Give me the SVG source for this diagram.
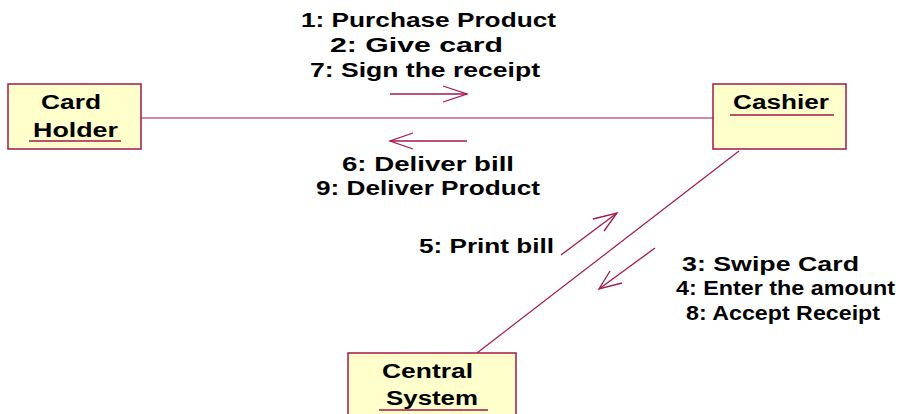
<svg xmlns="http://www.w3.org/2000/svg" width="899" height="414" viewBox="0 0 899 414">
<defs>
<style>
.box{fill:#FFFFCC;stroke:#A3184E;stroke-width:1.5}
.ul{stroke:#A3184E;stroke-width:1.3}
.ln{stroke:#A3184E;stroke-width:1.2;fill:none}
.ar{stroke:#A3184E;stroke-width:1.3;fill:none}
text{font-family:"Liberation Sans",Arial,sans-serif;font-weight:bold;font-size:20px;fill:#000}
</style>
</defs>
<rect width="899" height="414" fill="#fff"/>
<g id="connectors">
<line class="ln" x1="141" y1="118" x2="713" y2="118"/>
<line class="ln" x1="739" y1="151" x2="477" y2="353"/>
<polyline class="ar" points="390,94 467,94"/>
<polyline class="ar" points="443,86 467,94 443,102"/>
<polyline class="ar" points="467,141 390,141"/>
<polyline class="ar" points="413,133 390,141 413,149"/>
<polyline class="ar" points="561,255 617,213"/>
<polyline class="ar" points="593,219 617,213 604,231"/>
<polyline class="ar" points="655,248 599,289"/>
<polyline class="ar" points="610,271 599,289 622,283"/>
</g>
<g id="labels">
<text x="301" y="27" textLength="255" lengthAdjust="spacingAndGlyphs">1: Purchase Product</text>
<text x="330" y="52" textLength="173" lengthAdjust="spacingAndGlyphs">2: Give card</text>
<text x="310" y="77" textLength="230" lengthAdjust="spacingAndGlyphs">7: Sign the receipt</text>
<text x="342" y="171" textLength="172" lengthAdjust="spacingAndGlyphs">6: Deliver bill</text>
<text x="316" y="195" textLength="224" lengthAdjust="spacingAndGlyphs">9: Deliver Product</text>
<text x="419" y="253" textLength="135" lengthAdjust="spacingAndGlyphs">5: Print bill</text>
<text x="682" y="271" textLength="177" lengthAdjust="spacingAndGlyphs">3: Swipe Card</text>
<text x="676" y="295" textLength="219" lengthAdjust="spacingAndGlyphs">4: Enter the amount</text>
<text x="686" y="320" textLength="194" lengthAdjust="spacingAndGlyphs">8: Accept Receipt</text>
</g>
<g id="card-holder">
<rect class="box" x="8" y="84" width="133" height="65"/>
<text x="41" y="109" textLength="60" lengthAdjust="spacingAndGlyphs">Card</text>
<text x="33" y="137" textLength="85" lengthAdjust="spacingAndGlyphs">Holder</text>
<line class="ul" x1="29" y1="141" x2="121" y2="141"/>
</g>
<g id="cashier">
<rect class="box" x="713" y="84" width="133" height="65"/>
<text x="733" y="109" textLength="96" lengthAdjust="spacingAndGlyphs">Cashier</text>
<line class="ul" x1="730" y1="115" x2="834" y2="115"/>
</g>
<g id="central-system">
<rect class="box" x="348" y="353" width="168" height="70"/>
<text x="382" y="378" textLength="91" lengthAdjust="spacingAndGlyphs">Central</text>
<text x="386" y="405" textLength="92" lengthAdjust="spacingAndGlyphs">System</text>
<line class="ul" x1="379" y1="410" x2="488" y2="410"/>
</g>
</svg>
